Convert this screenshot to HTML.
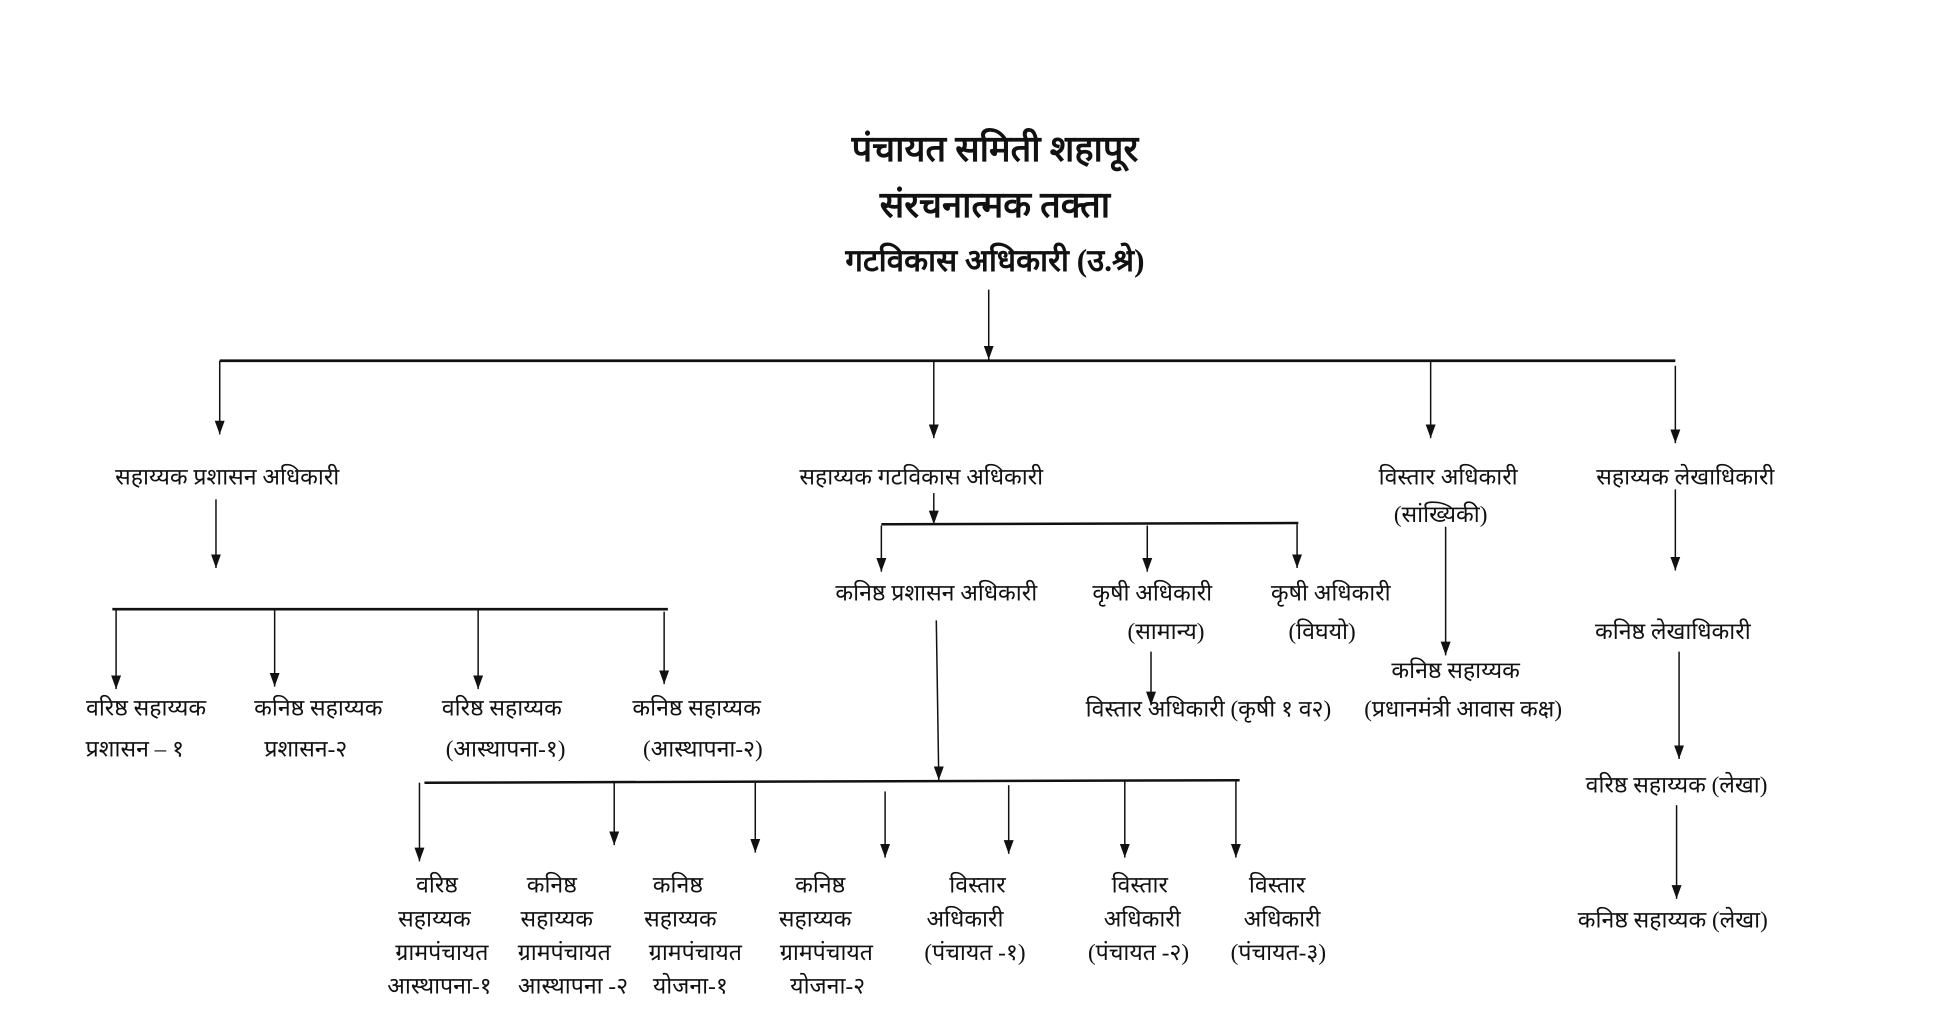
<!DOCTYPE html>
<html><head><meta charset="utf-8"><style>
html,body{margin:0;padding:0;background:#fff;}
svg{display:block;}
text{font-family:"Liberation Serif","Noto Sans CJK SC",serif;font-size:18.5px;fill:#111;text-anchor:middle;}
.t{font-size:29px;font-weight:bold;}
</style></head><body>
<svg width="1935" height="1033" viewBox="0 0 1550 827.5" preserveAspectRatio="none" xmlns="http://www.w3.org/2000/svg">
<defs>
<marker id="d" markerWidth="8" markerHeight="11" refX="4" refY="11" markerUnits="userSpaceOnUse" viewBox="0 0 8 11"><path d="M0,0 L8,0 L4,11 z" fill="#111"/></marker></defs>
<g stroke="#111" stroke-width="1.2" fill="none">
<line x1="792" y1="232" x2="792" y2="288" marker-end="url(#d)"/>
<line x1="176" y1="289" x2="1342" y2="289" stroke-width="2.2"/>
<line x1="176" y1="289" x2="176" y2="348" marker-end="url(#d)"/>
<line x1="748" y1="289" x2="748" y2="351" marker-end="url(#d)"/>
<line x1="1146" y1="289" x2="1146" y2="351" marker-end="url(#d)"/>
<line x1="1342" y1="293" x2="1342" y2="355" marker-end="url(#d)"/>
<line x1="173" y1="400" x2="173" y2="455" marker-end="url(#d)"/>
<line x1="90" y1="488" x2="535" y2="488" stroke-width="2.2"/>
<line x1="93" y1="488" x2="93" y2="552" marker-end="url(#d)"/>
<line x1="220" y1="488" x2="220" y2="550" marker-end="url(#d)"/>
<line x1="383" y1="488" x2="383" y2="552" marker-end="url(#d)"/>
<line x1="532" y1="490" x2="532" y2="548" marker-end="url(#d)"/>
<line x1="748" y1="395" x2="748" y2="420" marker-end="url(#d)"/>
<line x1="706" y1="420" x2="1040" y2="419" stroke-width="2"/>
<line x1="706" y1="421" x2="706" y2="458" marker-end="url(#d)"/>
<line x1="919" y1="421" x2="919" y2="458" marker-end="url(#d)"/>
<line x1="1039" y1="420" x2="1039" y2="455" marker-end="url(#d)"/>
<line x1="922" y1="522" x2="922" y2="565" marker-end="url(#d)"/>
<line x1="1158" y1="422" x2="1158" y2="525" marker-end="url(#d)"/>
<line x1="1342" y1="392" x2="1342" y2="457" marker-end="url(#d)"/>
<line x1="1345" y1="522" x2="1345" y2="608" marker-end="url(#d)"/>
<line x1="1343" y1="645" x2="1343" y2="720" marker-end="url(#d)"/>
<line x1="750" y1="497" x2="752" y2="625" marker-end="url(#d)"/>
<line x1="340" y1="627" x2="993" y2="625" stroke-width="2"/>
<line x1="336" y1="627" x2="336" y2="690" marker-end="url(#d)"/>
<line x1="492" y1="626" x2="492" y2="677" marker-end="url(#d)"/>
<line x1="605" y1="627" x2="605" y2="683" marker-end="url(#d)"/>
<line x1="709" y1="634" x2="709" y2="687" marker-end="url(#d)"/>
<line x1="808" y1="629" x2="808" y2="684" marker-end="url(#d)"/>
<line x1="901" y1="626" x2="901" y2="687" marker-end="url(#d)"/>
<line x1="990" y1="626" x2="990" y2="687" marker-end="url(#d)"/>
</g>
<text class="t" x="797" y="129">पंचायत समिती शहापूर</text>
<text class="t" x="797" y="174">संरचनात्मक तक्ता</text>
<text class="t" x="797" y="217" style="font-size:25px">गटविकास अधिकारी (उ.श्रे)</text>

<text x="182" y="388">सहाय्यक प्रशासन अधिकारी</text>
<text x="738" y="388">सहाय्यक गटविकास अधिकारी</text>
<text x="1160" y="388">विस्तार अधिकारी</text>
<text x="1154" y="418">(सांख्यिकी)</text>
<text x="1350" y="388">सहाय्यक लेखाधिकारी</text>

<text x="117" y="573">वरिष्ठ सहाय्यक</text>
<text x="255" y="573">कनिष्ठ सहाय्यक</text>
<text x="402" y="573">वरिष्ठ सहाय्यक</text>
<text x="558" y="573">कनिष्ठ सहाय्यक</text>
<text x="108" y="606">प्रशासन – १</text>
<text x="245" y="606">प्रशासन-२</text>
<text x="405" y="606">(आस्थापना-१)</text>
<text x="563" y="606">(आस्थापना-२)</text>

<text x="750" y="481">कनिष्ठ प्रशासन अधिकारी</text>
<text x="923" y="481">कृषी अधिकारी</text>
<text x="1066" y="481">कृषी अधिकारी</text>
<text x="934" y="512">(सामान्य)</text>
<text x="1059" y="512">(विघयो)</text>
<text x="968" y="574">विस्तार अधिकारी (कृषी १ व२)</text>
<text x="1166" y="543">कनिष्ठ सहाय्यक</text>
<text x="1172" y="574">(प्रधानमंत्री आवास कक्ष)</text>

<text x="1340" y="512">कनिष्ठ लेखाधिकारी</text>
<text x="1343" y="635">वरिष्ठ सहाय्यक (लेखा)</text>
<text x="1340" y="743">कनिष्ठ सहाय्यक (लेखा)</text>

<g>
<text x="350" y="715">वरिष्ठ</text><text x="348" y="742">सहाय्यक</text><text x="354" y="769">ग्रामपंचायत</text><text x="352" y="796">आस्थापना-१</text>
<text x="442" y="715">कनिष्ठ</text><text x="446" y="742">सहाय्यक</text><text x="452" y="769">ग्रामपंचायत</text><text x="459" y="796">आस्थापना -२</text>
<text x="543" y="715">कनिष्ठ</text><text x="545" y="742">सहाय्यक</text><text x="557" y="769">ग्रामपंचायत</text><text x="553" y="796">योजना-१</text>
<text x="657" y="715">कनिष्ठ</text><text x="653" y="742">सहाय्यक</text><text x="662" y="769">ग्रामपंचायत</text><text x="663" y="796">योजना-२</text>
<text x="783" y="715">विस्तार</text><text x="773" y="742">अधिकारी</text><text x="781" y="769">(पंचायत -१)</text>
<text x="913" y="715">विस्तार</text><text x="915" y="742">अधिकारी</text><text x="912" y="769">(पंचायत -२)</text>
<text x="1023" y="715">विस्तार</text><text x="1027" y="742">अधिकारी</text><text x="1024" y="769">(पंचायत-३)</text>
</g>
</svg>
</body></html>
